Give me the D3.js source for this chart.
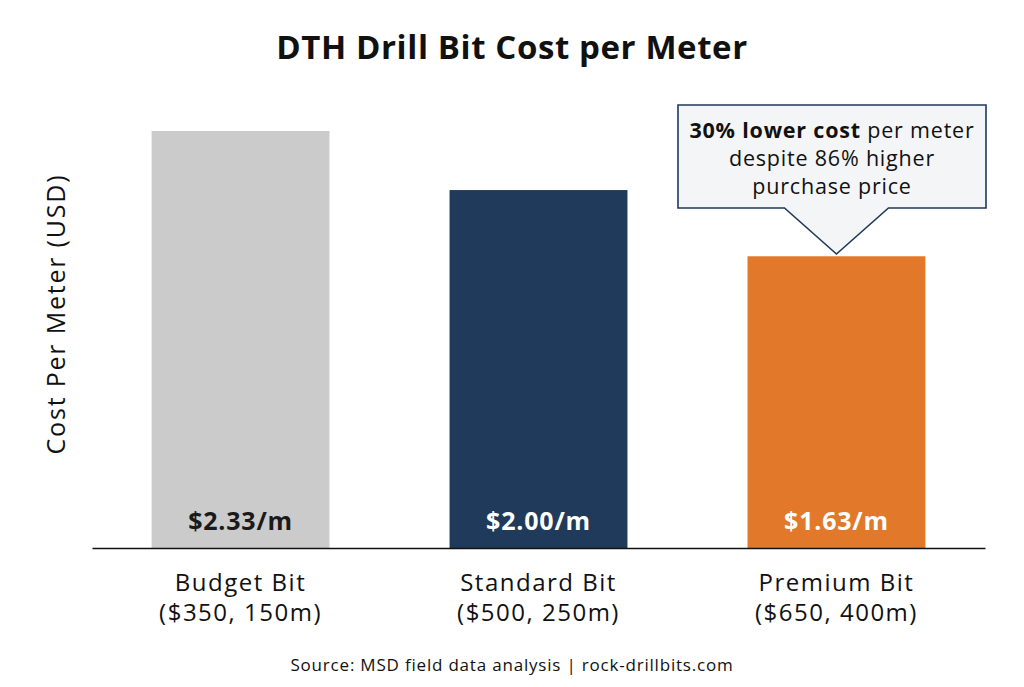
<!DOCTYPE html>
<html><head><meta charset="utf-8">
<script src="https://cdn.jsdelivr.net/npm/d3@7"></script>
<style>body{margin:0;background:#fff;} svg{display:block;}</style>
</head><body>
<script>
const categories = ["Budget Bit", "Standard Bit", "Premium Bit"];
const subLabels = ["($350, 150m)", "($500, 250m)", "($650, 400m)"];
const costPerMeter = [2.33, 2.00, 1.63];
const valueLabels = ["$2.33/m", "$2.00/m", "$1.63/m"];
const barColors = ["#cbcbcb", "#1f3a5a", "#e1782a"];
const labelColors = ["#1a1a1a", "#ffffff", "#ffffff"];
const titleText = "DTH Drill Bit Cost per Meter";
const yTitle = "Cost Per Meter (USD)";
const sourceText = "Source: MSD field data analysis | rock-drillbits.com";
const calloutBold = "30% lower cost";
const calloutLines = [" per meter", "despite 86% higher", "purchase price"];

const W = 1024, H = 687;
const font = "'Open Sans', 'Noto Sans', sans-serif";
const svg = d3.select("body").append("svg").attr("width", W).attr("height", H);

const x = d3.scaleBand().domain(categories).range([92, 985]).paddingInner(0.403).paddingOuter(0.2);
const y = d3.scaleLinear().domain([0, 2.33]).range([548, 131]);

svg.append("text").attr("x", 512).attr("y", 59).attr("text-anchor", "middle")
  .attr("font-family", font).attr("font-weight", 700).attr("font-size", 33).attr("letter-spacing", 0.6).attr("fill", "#111")
  .text(titleText);

svg.selectAll("rect.bar").data(costPerMeter).join("rect").attr("class", "bar")
  .attr("x", (d, i) => x(categories[i])).attr("width", x.bandwidth())
  .attr("y", d => y(d)).attr("height", d => y(0) - y(d))
  .attr("fill", (d, i) => barColors[i]);

svg.selectAll("text.val").data(costPerMeter).join("text").attr("class", "val")
  .attr("x", (d, i) => x(categories[i]) + x.bandwidth() / 2).attr("y", 530)
  .attr("text-anchor", "middle").attr("font-family", font).attr("font-weight", 700)
  .attr("font-size", 25).attr("letter-spacing", 0.8).attr("fill", (d, i) => labelColors[i])
  .text((d, i) => valueLabels[i]);

// baseline axis
const xAxis = svg.append("g").attr("transform", `translate(0,${y(0)})`)
  .call(d3.axisBottom(x).tickSize(0).tickFormat(""));
xAxis.select(".domain").attr("stroke", "#111").attr("stroke-width", 1.5);

categories.forEach((c, i) => {
  const cx = x(c) + x.bandwidth() / 2;
  const t = svg.append("text").attr("text-anchor", "middle").attr("font-family", font)
    .attr("font-size", 24).attr("letter-spacing", 1.5).attr("fill", "#111");
  t.append("tspan").attr("x", cx).attr("y", 591).text(c);
  t.append("tspan").attr("x", cx).attr("y", 621).text(subLabels[i]);
});

svg.append("text").attr("transform", "translate(65,314) rotate(-90)").attr("text-anchor", "middle")
  .attr("font-family", font).attr("font-size", 25).attr("letter-spacing", 1.8).attr("fill", "#111").text(yTitle);

svg.append("text").attr("x", 512).attr("y", 671).attr("text-anchor", "middle")
  .attr("font-family", font).attr("font-size", 17).attr("letter-spacing", 0.8).attr("fill", "#111").text(sourceText);

// callout
const px = x(categories[2]) + x.bandwidth() / 2;
const bx0 = 678, bx1 = 986, by0 = 105, by1 = 208, tipY = 254;
const path = `M${bx0},${by0}H${bx1}V${by1}H${px + 52}L${px},${tipY}L${px - 52},${by1}H${bx0}Z`;
svg.append("path").attr("d", path).attr("fill", "#f4f5f6").attr("stroke", "#1f3a5a").attr("stroke-width", 1.6);
const ct = svg.append("text").attr("text-anchor", "middle").attr("font-family", font)
  .attr("font-size", 21.5).attr("letter-spacing", 0.8).attr("fill", "#111");
const l1 = ct.append("tspan").attr("x", (bx0 + bx1) / 2).attr("y", 138);
l1.append("tspan").attr("font-weight", 700).text(calloutBold);
l1.append("tspan").text(calloutLines[0]);
ct.append("tspan").attr("x", (bx0 + bx1) / 2).attr("y", 166).text(calloutLines[1]);
ct.append("tspan").attr("x", (bx0 + bx1) / 2).attr("y", 194).text(calloutLines[2]);
</script>
</body></html>
